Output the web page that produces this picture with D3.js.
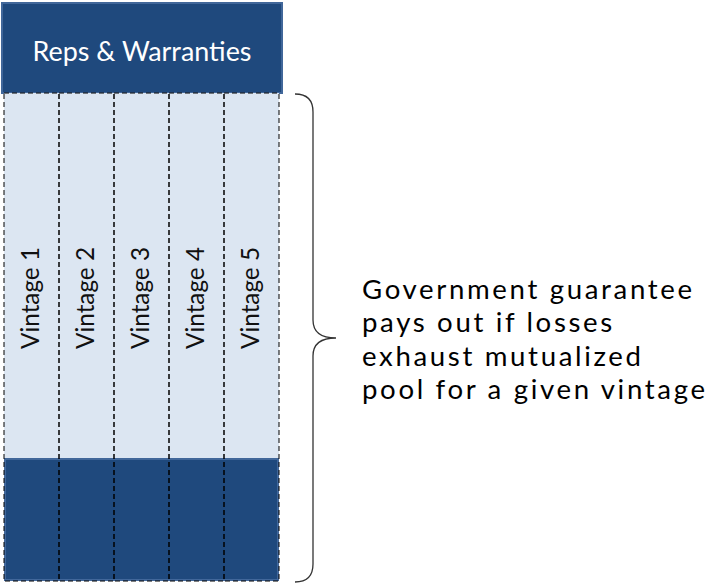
<html>
<head>
    <title>Reps & Warranties</title>
    <script src="https://d3js.org/d3.v7.min.js"></script>
    <style lang="css">
        body {
            margin: 0;
            background-color: #ffffff;
        }

        text.label {
            font-family: Lato, 'Open Sans', sans-serif;
        }
    </style>
</head>
<body>
<div class="chart-wrapper"></div>
</body>
<script>
    var vintages = ['Vintage 1', 'Vintage 2', 'Vintage 3', 'Vintage 4', 'Vintage 5'];
    var layers = ['reps', 'pool', 'guarantee'];
    var layerBounds = [3, 93, 458, 581];   // y of each layer edge
    var topLabel = 'Reps & Warranties';
    var noteLines = ['Government guarantee', 'pays out if losses', 'exhaust mutualized', 'pool for a given vintage'];

    var width = 711, height = 584;
    var svg = d3.select('.chart-wrapper')
        .append('svg')
        .attr('width', width).attr('height', height);

    var x = d3.scaleBand().domain(vintages).range([4, 279]).paddingInner(0).paddingOuter(0);
    var y = function (i) { return layerBounds[i]; };

    // fits text to a given width by changing font size
    function fitText(sel, target) {
        var w = sel.node().getComputedTextLength();
        var fs = parseFloat(sel.attr('font-size'));
        sel.attr('font-size', fs * target / w);
    }

    // top block
    svg.append('rect')
        .attr('x', 2).attr('y', y(0))
        .attr('width', 280).attr('height', y(1) - y(0))
        .attr('fill', '#1f497d')
        .attr('stroke', '#41679a').attr('stroke-width', 2);

    var reps = svg.append('text')
        .attr('x', 142).attr('y', 61)
        .attr('text-anchor', 'middle')
        .attr('font-size', 28)
        .attr('class', 'label')
        .attr('fill', '#ffffff')
        .text(topLabel);
    fitText(reps, 219);

    // pool layer
    svg.append('rect')
        .attr('x', x.range()[0]).attr('y', y(1))
        .attr('width', x.range()[1] - x.range()[0]).attr('height', y(2) - y(1))
        .attr('fill', '#dce6f2');

    // guarantee layer
    svg.append('rect')
        .attr('x', x.range()[0] + 1).attr('y', y(2) + 1)
        .attr('width', x.range()[1] - x.range()[0] - 2).attr('height', y(3) - y(2) - 2)
        .attr('fill', '#1f497d')
        .attr('stroke', '#41679a').attr('stroke-width', 2);

    // vintage columns
    var cols = svg.append('g').attr('id', 'cols');
    cols.selectAll('rect')
        .data(vintages)
        .enter()
        .append('rect')
        .attr('x', function (d) { return x(d); })
        .attr('y', y(1))
        .attr('width', x.bandwidth())
        .attr('height', y(3) - y(1))
        .attr('fill', 'none')
        .attr('stroke', '#000')
        .attr('stroke-width', 1)
        .attr('stroke-dasharray', '5,3');

    var vt = cols.selectAll('text')
        .data(vintages)
        .enter()
        .append('text')
        .attr('transform', function (d) { return 'translate(' + (x(d) + x.bandwidth() / 2 + 7) + ',298) rotate(-90)'; })
        .attr('text-anchor', 'middle')
        .attr('font-size', 20)
        .attr('class', 'label')
        .attr('fill', '#111')
        .text(function (d) { return d; });
    var vw = vt.node().getComputedTextLength();
    vt.attr('font-size', 20 * 102 / vw);

    // brace
    var bx = 295, by0 = 94, by1 = 582, vx = 313, tipX = 336, r = 18;
    var mid = (by0 + by1) / 2;
    var brace = d3.path();
    brace.moveTo(bx, by0);
    brace.quadraticCurveTo(vx, by0, vx, by0 + r);
    brace.lineTo(vx, mid - r);
    brace.quadraticCurveTo(vx, mid, tipX, mid);
    brace.quadraticCurveTo(vx, mid, vx, mid + r);
    brace.lineTo(vx, by1 - r);
    brace.quadraticCurveTo(vx, by1, bx, by1);
    svg.append('path')
        .attr('d', brace.toString())
        .attr('fill', 'none')
        .attr('stroke', '#333')
        .attr('stroke-width', 1.3);

    // note text, one line per text, font sized to the line gap
    var lineGap = 33.4;
    var noteSize = lineGap / 1.21;
    var note = svg.append('g').attr('id', 'note');
    var nt = note.selectAll('text')
        .data(noteLines)
        .enter()
        .append('text')
        .attr('x', 362)
        .attr('y', function (d, i) { return 299 + i * lineGap; })
        .attr('font-size', noteSize)
        .attr('class', 'label')
        .attr('fill', '#000')
        .text(function (d) { return d; });
    // spread a little so the longest line reaches the reference's right edge
    var longest = nt.filter(function (d, i) { return i === noteLines.length - 1; });
    var lw = longest.node().getComputedTextLength();
    var ls = Math.max(0, (343 - lw) / (noteLines[noteLines.length - 1].length - 1));
    nt.attr('letter-spacing', ls);
</script>
</html>
